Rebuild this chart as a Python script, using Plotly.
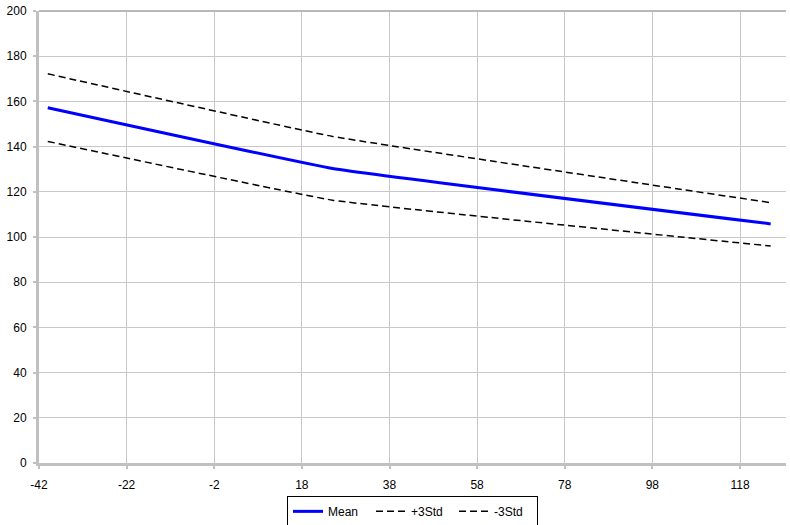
import plotly.graph_objects as go

x_vals = [-40, 25, 125]
mean_vals = [157.2, 130.3, 105.8]
plus3_vals = [172.2, 144.5, 115.2]
minus3_vals = [142.3, 116.3, 96.0]
x_ticks = [-42, -22, -2, 18, 38, 58, 78, 98, 118]
y_ticks = [0, 20, 40, 60, 80, 100, 120, 140, 160, 180, 200]

fig = go.Figure()
fig.add_trace(go.Scatter(x=x_vals, y=mean_vals, mode="lines", name="Mean",
                         line=dict(color="#0000ff", width=3, shape="spline", smoothing=0.25)))
fig.add_trace(go.Scatter(x=x_vals, y=plus3_vals, mode="lines", name="+3Std",
                         line=dict(color="#000000", width=1.5, dash="7px,4px", shape="spline", smoothing=0.25)))
fig.add_trace(go.Scatter(x=x_vals, y=minus3_vals, mode="lines", name="-3Std",
                         line=dict(color="#000000", width=1.5, dash="7px,4px", shape="spline", smoothing=0.25)))

fig.update_layout(
    width=790, height=525,
    margin=dict(l=39, r=4, t=11, b=62, autoexpand=False),
    paper_bgcolor="white", plot_bgcolor="white",
    font=dict(family="Liberation Sans, Arial, sans-serif", size=12, color="black"),
    showlegend=True,
    legend=dict(orientation="h", x=0.5, xanchor="center", y=-0.107, yanchor="middle",
                bordercolor="black", borderwidth=1, bgcolor="white",
                font=dict(size=12), itemwidth=30, entrywidth=38, tracegroupgap=0),
    xaxis=dict(range=[-42, 128.5], tickvals=x_ticks, ticktext=[str(v) for v in x_ticks],
               showgrid=True, gridcolor="#c8c8c8", gridwidth=1, automargin=False,
               showline=True, linecolor="#c0c0c0", linewidth=3, mirror=False,
               ticks="outside", ticklen=3, tickcolor="#c0c0c0", tickwidth=2,
               zeroline=False, ticklabelstandoff=6),
    yaxis=dict(range=[0, 200], tickvals=y_ticks, automargin=False,
               showgrid=True, gridcolor="#c8c8c8", gridwidth=1,
               showline=True, linecolor="#c0c0c0", linewidth=3,
               ticks="outside", ticklen=3, tickcolor="#c0c0c0", tickwidth=2,
               zeroline=False, ticklabelstandoff=4),
)
# top border of plot area
fig.add_shape(type="line", xref="paper", yref="paper", x0=0, x1=1, y0=1, y1=1,
              line=dict(color="#b8b8b8", width=2))

fig.write_html("out.html", config={"displayModeBar": False},
               post_script="document.body.style.margin='0';document.body.style.overflow='hidden';")
